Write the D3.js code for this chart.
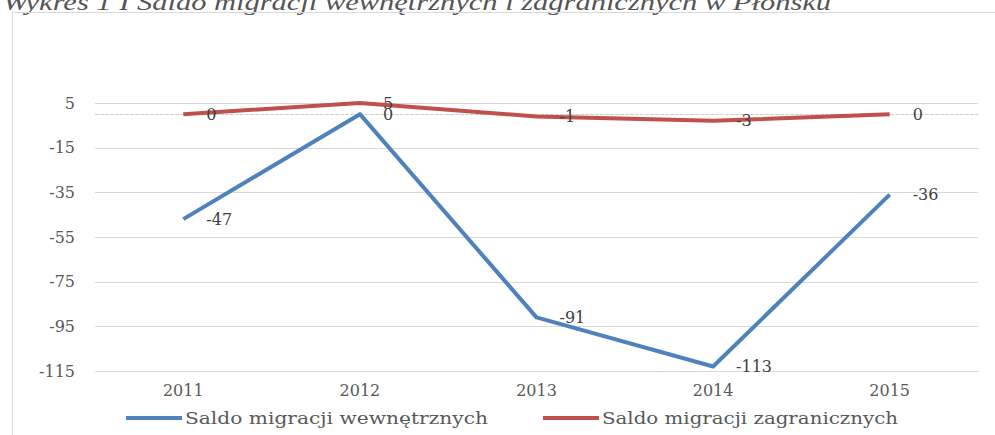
<!DOCTYPE html>
<html>
<head>
<meta charset="utf-8">
<script src="https://cdn.jsdelivr.net/npm/d3@7"></script>
<style>
  body { margin: 0; background: #fff; }
  svg { display: block; }
  .tick-label { font-family: "DejaVu Serif", serif; font-size: 16px; fill: #595959; }
  .data-label { font-family: "DejaVu Serif", serif; font-size: 16px; fill: #404040; }
</style>
</head>
<body>
<div id="chart"></div>
<script>
// data
var years = ["2011", "2012", "2013", "2014", "2015"];
var wewnetrzne = [-47, 0, -91, -113, -36];
var zagraniczne = [0, 5, -1, -3, 0];
var yTicks = [5, -15, -35, -55, -75, -95, -115];
var seriesNames = ["Saldo migracji wewnętrznych", "Saldo migracji zagranicznych"];
var seriesColors = ["#4f81bd", "#c0504d"];

var width = 995, height = 435;

var svg = d3.select("#chart").append("svg")
    .attr("width", width)
    .attr("height", height);

// title (cut at top like in the source)
svg.append("text")
    .attr("x", 3)
    .attr("y", 10)
    .attr("textLength", 828)
    .attr("lengthAdjust", "spacingAndGlyphs")
    .style("font-family", "Liberation Serif, serif")
    .style("font-style", "italic")
    .style("font-size", "24px")
    .style("fill", "#555")
    .text("Wykres 1 I Saldo migracji wewnętrznych i zagranicznych w Płońsku");

// chart frame
svg.append("rect")
    .attr("x", 12.5).attr("y", 12.5)
    .attr("width", 1100).attr("height", 500)
    .attr("fill", "none")
    .attr("stroke", "#d9d9d9");

// scales
var x = d3.scalePoint().domain(years).range([95, 978]).padding(0.5);
var y = d3.scaleLinear().domain([-115, 5]).range([371, 103]);

// gridlines
svg.append("g").selectAll("line")
    .data(yTicks)
    .enter().append("line")
    .attr("x1", 95).attr("x2", 978)
    .attr("y1", function(d) { return Math.round(y(d)) + 0.5; })
    .attr("y2", function(d) { return Math.round(y(d)) + 0.5; })
    .attr("stroke", "#d9d9d9");

// zero axis line
svg.append("line")
    .attr("x1", 95).attr("x2", 978)
    .attr("y1", Math.round(y(0)) + 0.5).attr("y2", Math.round(y(0)) + 0.5)
    .attr("stroke", "#cfcfcf")
    .attr("stroke-dasharray", "4,1");

// y axis labels
svg.append("g").selectAll("text")
    .data(yTicks)
    .enter().append("text")
    .attr("class", "tick-label")
    .attr("x", 75)
    .attr("y", function(d) { return y(d); })
    .attr("dy", "0.35em")
    .attr("text-anchor", "end")
    .text(function(d) { return d; });

// x axis labels
svg.append("g").selectAll("text")
    .data(years)
    .enter().append("text")
    .attr("class", "tick-label")
    .attr("x", function(d) { return x(d); })
    .attr("y", 390)
    .attr("dy", "0.35em")
    .attr("text-anchor", "middle")
    .text(function(d) { return d; });

// lines
var line = d3.line()
    .x(function(d, i) { return x(years[i]); })
    .y(function(d) { return y(d); });

[wewnetrzne, zagraniczne].forEach(function(series, s) {
    svg.append("path")
        .datum(series)
        .attr("fill", "none")
        .attr("stroke", seriesColors[s])
        .attr("stroke-width", 4)
        .attr("stroke-linejoin", "round")
        .attr("d", line);
});

// data labels
[wewnetrzne, zagraniczne].forEach(function(series, s) {
    svg.append("g").selectAll("text")
        .data(series)
        .enter().append("text")
        .attr("class", "data-label")
        .attr("x", function(d, i) { return x(years[i]) + 23; })
        .attr("y", function(d) { return y(d); })
        .attr("dy", "0.35em")
        .text(function(d) { return d; });
});

// legend
var legendX = [126, 543];
var legendW = [303, 296];
seriesNames.forEach(function(name, s) {
    svg.append("line")
        .attr("x1", legendX[s]).attr("x2", legendX[s] + 56)
        .attr("y1", 418).attr("y2", 418)
        .attr("stroke", seriesColors[s])
        .attr("stroke-width", 4);
    svg.append("text")
        .attr("class", "tick-label")
        .attr("x", legendX[s] + 59)
        .attr("y", 418)
        .attr("dy", "0.35em")
        .attr("textLength", legendW[s])
        .attr("lengthAdjust", "spacingAndGlyphs")
        .style("font-size", "17px")
        .text(name);
});
</script>
</body>
</html>
